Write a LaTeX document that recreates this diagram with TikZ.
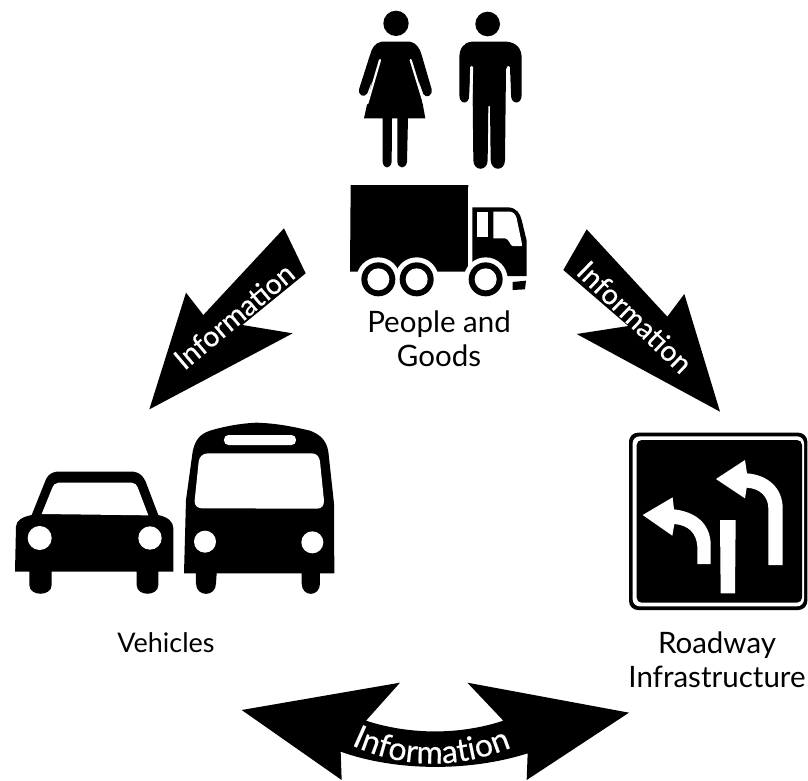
\documentclass[tikz,border=0pt]{standalone}
\usepackage{fontspec}
\setmainfont{Lato}
\newfontface\infoface[FakeBold=0.5]{Lato}
\usetikzlibrary{decorations.text}
\tikzset{
  sil/.style={fill=black,draw=none},
  gap/.style={fill=white,draw=none},
  slit/.style={draw=white,line width=2.2pt,line cap=round},
  zoomA/.style={shift={(340,0)},scale=1/3},
  zoomB/.style={shift={(0,410)},scale=1/3},
  zoomC/.style={shift={(230,640)},scale=1/3},
  zoomD/.style={shift={(610,420)},scale=1/3},
  zoomE/.style={shift={(140,220)},scale=1/3},
  zoomF/.style={shift={(550,220)},scale=1/3},
  caption/.style={font=\fontsize{29.5}{34}\selectfont,align=center,text=black,inner sep=0pt},
  info/.style={font=\infoface\fontsize{28.5}{30}\selectfont,text=white,inner sep=0pt,anchor=center}
}
\begin{document}
\begin{tikzpicture}[x=1pt,y=-1pt]
\useasboundingbox (0,0) rectangle (808,780);
% woman
\begin{scope}[zoomA]
\fill[sil] (168,70) circle (38);
\fill[sil] (125,125) -- (210,125) .. controls (228,128) and (240,145) .. (245,165)
  -- (275,268) .. controls (278,288) and (258,296) .. (250,282) -- (235,240)
  -- (256,355) -- (204,355) -- (201,485) .. controls (198,508) and (174,508) .. (172,485)
  -- (172,355) -- (156,355) -- (155,485) .. controls (152,508) and (130,508) .. (128,485)
  -- (128,355) -- (72,355) -- (97,240) -- (82,280)
  .. controls (72,296) and (52,285) .. (58,265)
  -- (90,165) .. controls (95,145) and (105,128) .. (125,125) -- cycle;
\draw[slit] (212,180) -- (252,310);
\draw[slit] (120,180) -- (82,310);
% man
\fill[sil] (443,72) circle (37);
\fill[sil] (395,125) -- (500,125) .. controls (530,128) and (545,145) .. (545,175)
  -- (545,285) .. controls (545,315) and (513,315) .. (513,285) -- (510,205)
  -- (498,205) -- (495,480) .. controls (495,515) and (453,515) .. (452,480)
  -- (450,318) -- (445,318) -- (443,480) .. controls (443,515) and (400,515) .. (400,480)
  -- (397,205) -- (392,205) -- (388,285) .. controls (388,315) and (358,315) .. (358,285)
  -- (358,175) .. controls (358,145) and (370,128) .. (395,125) -- cycle;
\draw[slit,line width=3pt] (395,202) -- (392,320);
\draw[slit,line width=3pt] (505,202) -- (508,320);
% truck
\fill[sil] (32,555) -- (385,555) -- (385,815) -- (30,815) -- cycle;
\fill[sil] (397,622) -- (505,622) .. controls (530,624) and (540,640) .. (545,660)
  -- (560,722) -- (560,828) -- (397,828) -- cycle;
\fill[gap] (115,838) circle (66);
\fill[gap] (230,838) circle (66);
\fill[gap] (437,838) circle (66);
\fill[gap] (20,816) rectangle (390,900);
\fill[gap] (385,560) rectangle (397,815);
\fill[sil] (115,838) circle (51);
\fill[sil] (230,838) circle (51);
\fill[sil] (437,838) circle (51);
\fill[gap] (115,838) circle (33);
\fill[gap] (230,838) circle (33);
\fill[gap] (437,838) circle (33);
\fill[gap] (410,635) -- (445,635) -- (445,712) -- (410,712) -- cycle;
\fill[gap] (460,635) -- (510,635) .. controls (522,636) and (527,645) .. (530,655)
  -- (546,732) -- (545,738) -- (518,738) .. controls (510,738) and (508,716) .. (495,715)
  -- (460,715) -- cycle;
\fill[sil] (518,846) -- (558,842) -- (555,868) -- (518,870) -- cycle;
\end{scope}
% car and bus
\begin{scope}[zoomB]
\fill[sil] (170,185) -- (400,185) .. controls (420,187) and (430,200) .. (437,215)
  -- (475,315) .. controls (505,322) and (520,335) .. (520,355) -- (520,485)
  -- (475,485) -- (475,525) .. controls (475,560) and (410,560) .. (410,525)
  -- (410,485) -- (155,485) -- (155,525) .. controls (155,560) and (88,560) .. (88,525)
  -- (88,485) -- (45,485) -- (48,350) .. controls (48,330) and (70,320) .. (95,315)
  -- (135,215) .. controls (140,200) and (150,187) .. (170,185) -- cycle;
\fill[gap] (175,218) -- (395,218) .. controls (405,218) and (410,225) .. (413,232)
  -- (445,316) -- (125,312) -- (155,238) .. controls (160,225) and (165,218) .. (175,218) -- cycle;
\fill[gap] (119,384) circle (36);
\fill[gap] (450,384) circle (35);
\fill[sil] (770,38) .. controls (830,40) and (880,50) .. (930,62)
  .. controls (965,75) and (980,95) .. (985,125) -- (1002,280) -- (1003,490)
  -- (960,490) -- (960,520) .. controls (960,562) and (905,562) .. (905,520)
  -- (905,490) -- (650,490) -- (648,520) .. controls (648,562) and (588,562) .. (588,520)
  -- (588,490) -- (552,490) -- (558,270) -- (578,125)
  .. controls (585,90) and (600,72) .. (630,62) .. controls (670,50) and (720,40) .. (770,38) -- cycle;
\fill[gap,rounded corners=4.5pt] (672,75) rectangle (888,105);
\fill[gap] (625,130) -- (935,130) .. controls (950,130) and (958,140) .. (960,155)
  -- (972,272) .. controls (972,288) and (965,296) .. (950,296)
  -- (605,295) .. controls (590,294) and (583,285) .. (584,272)
  -- (596,155) .. controls (598,140) and (608,130) .. (625,130) -- cycle;
\fill[gap] (615,395) circle (33);
\fill[gap] (937,397) circle (33);
\end{scope}
% sign
\begin{scope}[zoomD]
\fill[sil,rounded corners=9pt] (57,38) rectangle (592,570);
\fill[gap,rounded corners=7pt] (68,49) rectangle (582,559);
\fill[sil,rounded corners=5pt] (80,60) rectangle (576,548);
\fill[gap] (318,177) -- (405,120) -- (411,160) .. controls (475,165) and (518,205) .. (518,265)
  -- (518,435) -- (475,435) -- (475,265) .. controls (475,230) and (450,205) .. (410,203)
  -- (405,235) -- cycle;
\fill[gap] (98,285) -- (188,232) -- (192,268) .. controls (255,275) and (302,310) .. (302,375)
  -- (302,432) -- (262,432) -- (262,380) .. controls (260,340) and (235,315) .. (193,312)
  -- (187,347) -- cycle;
\fill[gap] (330,300) -- (377,300) -- (375,520) -- (332,520) -- cycle;
\end{scope}
% left arrow
\begin{scope}[zoomE]
\fill[sil] (432,25) -- (497,160) -- (307,315) -- (458,340) -- (28,568) -- (138,218) -- (190,285) -- cycle;
\end{scope}
\node[info,rotate=40] (infoL) at (234,316) {Information};
% right arrow
\begin{scope}[zoomF]
\fill[sil] (110,28) -- (352,290) -- (403,222) -- (510,575) -- (80,342) -- (235,318) -- (40,150) -- cycle;
\end{scope}
\node[info,rotate=-44] (infoR) at (635,317) {Information};
% bottom arrow
\begin{scope}[zoomC]
\fill[sil] (35,210) -- (510,128) -- (408,242) .. controls (540,285) and (690,285) .. (820,242)
  -- (712,128) -- (1197,218) -- (890,420) -- (893,340)
  .. controls (720,395) and (500,395) .. (332,335) -- (335,420) -- cycle;
\path[decorate,decoration={text along path,text align=center,
   text={|\infoface\fontsize{32}{34}\selectfont\color{white}|Information}}]
   (320,292) .. controls (500,395) and (700,395) .. (890,302);
\end{scope}
% captions
\node[caption] (people) at (439,339) {People and\\Goods};
\node[caption,font=\fontsize{27}{34}\selectfont] (vehicles) at (166,643) {Vehicles};
\node[caption] (roadway) at (717,660) {Roadway\\Infrastructure};
\end{tikzpicture}
\end{document}
